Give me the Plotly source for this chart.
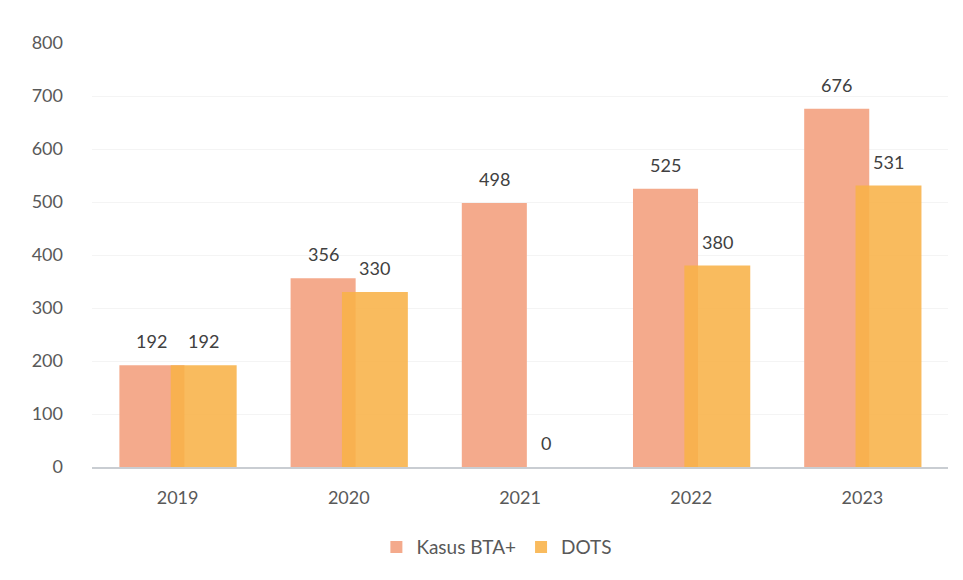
import plotly.graph_objects as go

years = ["2019", "2020", "2021", "2022", "2023"]
kasus_bta = [192, 356, 498, 525, 676]
dots = [192, 330, 0, 380, 531]
y_ticks = [0, 100, 200, 300, 400, 500, 600, 700, 800]

font_family = "Lato, 'Open Sans', sans-serif"

K_W, K_OFF = 0.38, -0.34
D_W, D_OFF = 0.385, -0.04

fig = go.Figure()
fig.add_trace(go.Bar(
    x=list(range(len(years))), y=kasus_bta, name="Kasus BTA+",
    marker=dict(color="#F4AA8C", line=dict(width=0)),
    width=K_W, offset=K_OFF,
))
fig.add_trace(go.Bar(
    x=list(range(len(years))), y=dots, name="DOTS",
    marker=dict(color="rgba(248,178,72,0.88)", line=dict(width=0)),
    width=D_W, offset=D_OFF,
))

annotations = []
for i, v in enumerate(kasus_bta):
    annotations.append(dict(x=i + K_OFF + K_W / 2, y=v, xref="x", yref="y", text=str(v),
                            showarrow=False, yshift=24, yanchor="middle",
                            font=dict(size=18, color="#404040", family=font_family)))
for i, v in enumerate(dots):
    annotations.append(dict(x=i + D_OFF + D_W / 2, y=v, xref="x", yref="y", text=str(v),
                            showarrow=False, yshift=24, yanchor="middle",
                            font=dict(size=18, color="#404040", family=font_family)))

fig.update_layout(
    width=963, height=580,
    barmode="overlay",
    paper_bgcolor="white", plot_bgcolor="white",
    margin=dict(l=84, r=23, t=35, b=121, autoexpand=False),
    font=dict(family=font_family, size=18, color="#595959"),
    showlegend=True,
    legend=dict(orientation="h", x=0.473, xanchor="center", y=-0.189, yanchor="middle",
                font=dict(size=19, color="#595959"), itemwidth=30),
    xaxis=dict(showgrid=False, showline=True, linecolor="#C9CDD2", linewidth=1.5,
               ticks="", tickmode="array", tickvals=list(range(len(years))), ticktext=years,
               tickfont=dict(size=18, color="#595959"), range=[-0.5, 4.5],
               ticklabelstandoff=14, automargin=False),
    yaxis=dict(range=[0, 800], tickvals=y_ticks, showgrid=True, gridcolor="#F4F4F4",
               zeroline=False, showline=False, ticks="", ticklen=0,
               tickfont=dict(size=18, color="#595959"), ticklabelstandoff=28, automargin=False),
    annotations=annotations,
)

fig.write_html("out.html")
